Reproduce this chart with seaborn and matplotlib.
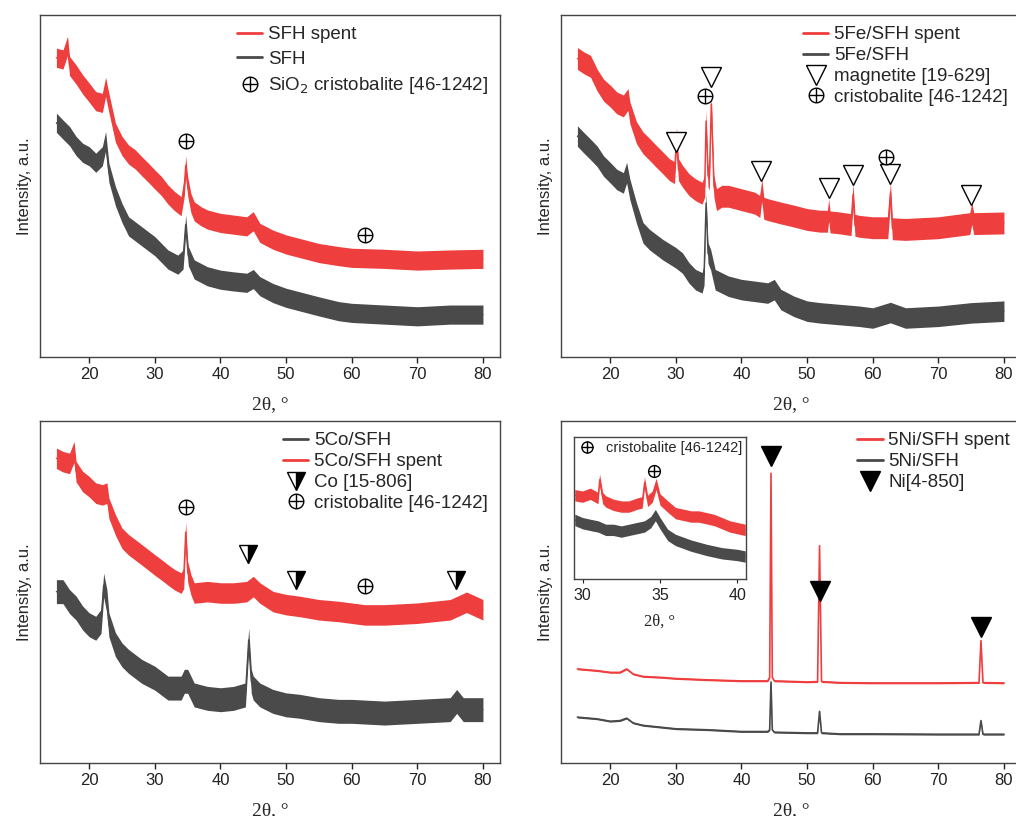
import matplotlib
matplotlib.use("Agg")
import numpy as np
import seaborn as sns
import matplotlib.pyplot as plt
from matplotlib.lines import Line2D

# ---- data (arbitrary intensity units, 0-100 per panel) ----
sfh_spent_x = [15, 16, 16.7, 17, 18, 19, 20, 21, 22, 22.5, 23, 24, 25, 26, 27, 28, 29, 30, 31, 32, 33, 34,
               34.5, 34.7, 35, 35.5, 36, 37, 38, 40, 42, 44, 45, 46, 48, 50, 52, 55, 58, 60, 65, 70, 75, 80]
sfh_spent_y = [87.5, 87, 91, 85.1, 82.6, 79.7, 77.3, 74.8, 74.3, 79, 74.3, 65.6, 61.7, 59.2, 57.8, 55.8, 53.9,
               51.9, 50, 47.5, 45.6, 44.1, 50, 56, 50, 45, 42.6, 41.2, 40.2, 39.2, 38.7, 38.2, 39.7, 36.3,
               34.3, 32.9, 31.9, 30.4, 29.5, 29, 28.7, 28.2, 28.5, 28.7]
sfh_x = [15, 16, 17, 18, 19, 20, 21, 22, 22.5, 23, 24, 25, 26, 28, 30, 32, 33.5, 34.3, 34.7, 35.1, 36, 38,
         40, 42, 44, 45, 46, 48, 50, 52, 55, 58, 60, 65, 70, 75, 80]
sfh_y = [68.5, 66.5, 64.6, 61.7, 59.7, 58.7, 56.8, 58.7, 63.1, 53.9, 47, 42.1, 38.2, 35.3, 32.4, 28.5, 27,
         28.5, 38.7, 29.5, 25.6, 23.6, 22.6, 22.1, 21.7, 22.8, 20.7, 18.7, 17.3, 16.3, 14.8, 13.4, 12.9,
         12.4, 11.9, 12.4, 12.4]

fe_spent_x = [15, 16, 17, 18, 19, 20, 21, 22, 22.7, 23, 24, 25, 26, 27, 28, 29, 29.8, 30.1, 30.4, 31,
              32, 33, 34, 34.4, 34.6, 34.9, 35.1, 35.4, 35.8, 36.2, 37, 38, 40, 42, 42.8, 43.1, 43.4, 44,
              46, 48, 50, 52, 53.1, 53.3, 53.5, 55, 56.7, 57.0, 57.3, 58, 60, 62.3, 62.7, 63.0, 65, 70,
              74.8, 75.1, 75.4, 80]
fe_spent_y = [87.3, 86, 85, 81, 78, 76.3, 74.3, 73.4, 75.3, 71.4, 65.6, 62.6, 60.7, 58.7, 56.8, 54.8,
              53.9, 64, 54.8, 52.9, 50.4, 48.9, 47.9, 50, 69, 53, 52, 74, 50, 46, 47, 47, 46, 45, 44, 49,
              43.5, 43.1, 42.1, 41.2, 40.2, 39.7, 39.7, 43, 39.5, 39.2, 38.7, 47.5, 38.5, 38.2, 37.8,
              37.8, 48, 37.5, 37.3, 37.8, 39, 42, 39, 39.2]
fe_x = [15, 16, 17, 18, 19, 20, 21, 22, 22.5, 23, 24, 25, 26, 28, 30, 31, 32, 33, 34, 34.3, 34.6, 34.9,
        35.3, 36, 38, 40, 42, 44, 45, 46, 48, 50, 52, 55, 58, 60, 62.7, 65, 70, 75, 80]
fe_y = [64.6, 62.6, 60.7, 58.7, 55.8, 53.9, 51.9, 50.9, 53.9, 49, 42.1, 36.3, 34.3, 31.4, 29, 27.5, 24.6,
        22.6, 21.7, 24, 45, 30.4, 28.5, 22.6, 20.7, 19.7, 19.2, 18.7, 19.7, 16.8, 14.8, 13.4, 12.9, 12.4,
        11.9, 11.4, 13, 11.4, 11.9, 12.9, 13.4]

co_spent_x = [15, 16, 17, 17.7, 18, 19, 20, 21, 22, 22.7, 23, 24, 25, 26, 28, 30, 31, 32, 33, 34, 34.4,
              34.7, 35.0, 35.5, 36, 38, 40, 42, 44, 45, 46, 48, 50, 52, 55, 58, 60, 62, 65, 70, 75, 77.5, 80]
co_spent_y = [89.1, 88.1, 87.6, 91, 85.2, 82.3, 80.8, 78.9, 78.4, 78.9, 74.5, 69.6, 65.7, 63.8, 60.9,
              57.9, 56.5, 55, 53.6, 52.6, 54, 67.5, 56, 52.1, 49.7, 50.1, 49.7, 49.7, 50.1, 51.6, 49.7,
              47.2, 46.3, 45.8, 44.8, 44.3, 43.8, 43.3, 43.3, 43.8, 44.8, 47, 44.8]
co_x = [15, 16, 17, 18, 19, 20, 21, 21.8, 22.2, 22.7, 23, 24, 25, 26, 28, 30, 32, 34, 34.5, 35, 36, 38,
        40, 42, 43.8, 44.3, 44.7, 45, 46, 48, 50, 52, 55, 58, 60, 65, 70, 75, 76, 77, 80]
co_y = [50.1, 50.1, 47.2, 45.3, 42.4, 40.4, 39.4, 41.4, 52, 47.2, 40.4, 34.6, 31.6, 29.7, 26.8, 24.8,
        21.9, 21.9, 23.9, 23.9, 19.9, 18.9, 18.5, 18.9, 19.9, 36, 23.9, 21.9, 19.9, 18, 17, 16.6, 15.6,
        15.1, 15.1, 14.6, 15.1, 15.6, 18, 15.6, 15.6]

ni_x = [15, 18, 20, 21.5, 22.5, 23.5, 25, 28, 30, 35, 40, 44, 44.3, 44.5, 44.7, 45, 50, 51.6, 51.9, 52.2,
        55, 60, 70, 76.2, 76.5, 76.8, 80]
ni_spent_y = [27.5, 27, 26.5, 26.5, 27.5, 26, 25.3, 25, 24.7, 24.3, 24, 24, 25, 84.7, 25, 24, 23.7, 23.8,
              63.5, 23.8, 23.5, 23.4, 23.4, 23.5, 35.8, 23.5, 23.4]
ni_y = [13.4, 12.9, 12.2, 12.4, 13.1, 11.7, 11, 10.4, 10, 9.7, 9.2, 9.2, 9.7, 23.7, 9.7, 9.0, 8.8, 8.8,
        15.1, 8.8, 8.5, 8.5, 8.4, 8.4, 12.4, 8.4, 8.4]

# inset, 30-40 deg zoom of the Ni samples
ins_spent_x = [29.5, 30, 30.5, 31, 31.1, 31.3, 31.5, 32, 32.5, 33, 33.5, 33.85, 34.0, 34.2, 34.5, 34.75,
               35.0, 35.5, 36, 36.5, 37, 37.5, 38, 38.5, 39, 39.5, 40, 40.5]
ins_spent_y = [59, 58, 60, 57, 70, 57, 54.6, 52.2, 51, 51, 53, 54, 68, 55, 58, 67, 56, 51, 46.4, 45.2,
               44, 44, 42.8, 41.5, 39.3, 37, 35.8, 34.6]
ins_x = [29.5, 30, 30.5, 31, 31.5, 32, 32.5, 33, 33.5, 34, 34.4, 34.7, 35, 35.5, 36, 37, 38, 39, 40, 40.5]
ins_y = [41.6, 39.3, 38.1, 37, 34.6, 34.6, 33.4, 34.6, 35.8, 37, 40, 45, 39.3, 31, 27.5, 23.5, 20.5,
         18.1, 16.9, 15.8]

# phase markers
tl_crist_x, tl_crist_y = [34.7, 62.0], [63.1, 35.8]
tr_mag_x = [30.0, 35.4, 43.0, 53.3, 57.0, 62.7, 75.0]
tr_mag_y = [62.8, 82, 54.5, 49.3, 53.2, 53.5, 47.5]
tr_crist_x, tr_crist_y = [34.5, 62.1], [76.3, 58.4]
bl_co_x, bl_co_y = [44.2, 51.5, 75.9], [61.1, 53.4, 53.4]
bl_crist_x, bl_crist_y = [34.7, 62.1], [75, 51.9]
br_ni_x, br_ni_y = [44.5, 51.9, 76.5], [89.9, 50.4, 39.9]
ins_crist_x, ins_crist_y = [34.6], [76.2]

RED = "#ee3e3e"
GRAY = "#4a4a4a"

sns.set_style("ticks")
plt.rcParams["font.family"] = ["Liberation Sans", "DejaVu Sans"]

fig = plt.figure(figsize=(10.16, 8.16), dpi=100)
W, H = 1016, 816


def make_ax(left, top):
    ax = fig.add_axes([left / W, 1 - (top + 342) / H, 460 / W, 342 / H])
    ax.set_xlim(12.5, 82.6)
    ax.set_ylim(0, 100)
    ax.set_xticks([20, 30, 40, 50, 60, 70, 80])
    ax.set_yticks([])
    ax.tick_params(axis="x", direction="out", length=4, width=1, labelsize=12, colors="#222222")
    for s in ax.spines.values():
        s.set_color("#444444")
        s.set_linewidth(1)
    ax.set_xlabel("2θ, °", fontsize=14, family=["Liberation Serif", "DejaVu Serif"], labelpad=10)
    ax.set_ylabel("Intensity, a.u.", fontsize=12, labelpad=6)
    return ax


def trace(ax, x, y, color, band, lw=1.0):
    x = np.asarray(x, float)
    y = np.asarray(y, float)
    if band > 0:
        ax.fill_between(x, y - band, y + band, color=color, lw=0)
    sns.lineplot(x=x, y=y, color=color, lw=lw, ax=ax, legend=False)


def crist_handle(ms=10.5):
    ring = Line2D([], [], marker="o", markerfacecolor="none", markeredgecolor="black", ls="none",
                  markersize=ms, markeredgewidth=1)
    plus = Line2D([], [], marker="+", color="black", ls="none", markersize=ms, markeredgewidth=1)
    return (ring, plus)


def crist(ax, x, y, ms=10.5):
    ax.plot(x, y, marker="o", markerfacecolor="white", markeredgecolor="black", ls="none",
            markersize=ms, markeredgewidth=1)
    ax.plot(x, y, marker="+", color="black", ls="none", markersize=ms, markeredgewidth=1)


mag = dict(marker="v", markerfacecolor="white", markeredgecolor="black", ls="none", markersize=14,
           markeredgewidth=1)
cohalf = dict(marker="v", fillstyle="right", markerfacecolor="black", markerfacecoloralt="white",
              markeredgecolor="black", ls="none", markersize=13, markeredgewidth=1)
nitri = dict(marker="v", color="black", ls="none", markersize=14)

leg_kw = dict(frameon=False, fontsize=13.5, handlelength=1.35, handletextpad=0.3,
              borderaxespad=0.2, loc="upper left")

# top left
ax1 = make_ax(40, 15)
trace(ax1, sfh_spent_x, sfh_spent_y, RED, 2.8)
trace(ax1, sfh_x, sfh_y, GRAY, 2.8)
crist(ax1, tl_crist_x, tl_crist_y)
ax1.legend([Line2D([], [], color=RED, lw=2), Line2D([], [], color=GRAY, lw=2), crist_handle()],
           ["SFH spent", "SFH", "SiO$_2$ cristobalite [46-1242]"],
           bbox_to_anchor=(0.404, 1.0), labelspacing=0.4, **leg_kw)

# top right
ax2 = make_ax(561, 15)
trace(ax2, fe_spent_x, fe_spent_y, RED, 3.2)
trace(ax2, fe_x, fe_y, GRAY, 3.0)
ax2.plot(tr_mag_x, tr_mag_y, **mag)
crist(ax2, tr_crist_x, tr_crist_y)
ax2.legend([Line2D([], [], color=RED, lw=2), Line2D([], [], color=GRAY, lw=2), Line2D([], [], **mag),
            crist_handle()],
           ["5Fe/SFH spent", "5Fe/SFH", "magnetite [19-629]", "cristobalite [46-1242]"],
           bbox_to_anchor=(0.502, 1.0), labelspacing=0.2, **leg_kw)

# bottom left
ax3 = make_ax(40, 421)
trace(ax3, co_spent_x, co_spent_y, RED, 3.0)
trace(ax3, co_x, co_y, GRAY, 3.5)
ax3.plot(bl_co_x, bl_co_y, **cohalf)
crist(ax3, bl_crist_x, bl_crist_y)
ax3.legend([Line2D([], [], color=GRAY, lw=2), Line2D([], [], color=RED, lw=2), Line2D([], [], **cohalf),
            crist_handle()],
           ["5Co/SFH", "5Co/SFH spent", "Co [15-806]", "cristobalite [46-1242]"],
           bbox_to_anchor=(0.504, 1.0), labelspacing=0.2, **leg_kw)

# bottom right
ax4 = make_ax(561, 421)
trace(ax4, ni_x, ni_spent_y, RED, 0.25, lw=1.2)
trace(ax4, ni_x, ni_y, GRAY, 0.25, lw=1.2)
ax4.plot(br_ni_x, br_ni_y, **nitri)
ax4.legend([Line2D([], [], color=RED, lw=2), Line2D([], [], color=GRAY, lw=2), Line2D([], [], **nitri)],
           ["5Ni/SFH spent", "5Ni/SFH", "Ni[4-850]"],
           bbox_to_anchor=(0.62, 1.0), labelspacing=0.2, **leg_kw)

# inset
axi = fig.add_axes([574 / W, 1 - 579 / H, 172 / W, 142 / H])
trace(axi, ins_spent_x, ins_spent_y, RED, 4.0, lw=0.8)
trace(axi, ins_x, ins_y, GRAY, 4.0, lw=0.8)
crist(axi, ins_crist_x, ins_crist_y, ms=8.5)
axi.set_xlim(29.45, 40.55)
axi.set_ylim(0, 100)
axi.set_xticks([30, 35, 40])
axi.set_yticks([])
axi.tick_params(axis="x", direction="out", length=3, labelsize=11.5, colors="#222222")
for s in axi.spines.values():
    s.set_color("#444444")
    s.set_linewidth(1)
axi.set_xlabel("2θ, °", fontsize=12, family=["Liberation Serif", "DejaVu Serif"], labelpad=8)
axi.set_ylabel("")
axi.legend([crist_handle(8)], ["cristobalite [46-1242]"], frameon=False, fontsize=10.5,
           loc="upper left", handlelength=1.2, handletextpad=0.7, borderaxespad=0.1, borderpad=0.2)

fig.savefig("out.png", dpi=100)
